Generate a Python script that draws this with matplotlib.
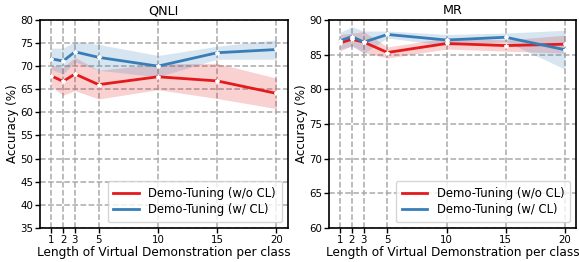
import matplotlib
matplotlib.use("Agg")
import matplotlib.pyplot as plt
import numpy as np

x_vals = [1, 2, 3, 5, 10, 15, 20]

qnli_wo_mean = [67.9, 66.7, 68.3, 66.0, 67.7, 66.8, 64.1]
qnli_wo_err = [2.3, 3.0, 3.6, 3.1, 2.8, 3.8, 3.3]
qnli_w_mean = [71.6, 71.1, 73.1, 71.9, 70.0, 72.9, 73.6]
qnli_w_err = [2.3, 2.8, 2.2, 2.8, 2.3, 1.4, 2.1]

mr_wo_mean = [86.7, 87.2, 86.8, 85.3, 86.6, 86.3, 86.5]
mr_wo_err = [1.2, 0.9, 1.5, 0.8, 0.8, 0.8, 1.3]
mr_w_mean = [87.0, 87.6, 86.8, 87.9, 87.1, 87.5, 85.7]
mr_w_err = [1.2, 1.4, 1.6, 0.5, 0.8, 0.6, 2.8]

labels = ["Demo-Tuning (w/o CL)", "Demo-Tuning (w/ CL)"]
red = "#e41a1c"
blue = "#377eb8"

fig = plt.figure(figsize=(5.79, 2.62), dpi=100)
ax1 = fig.add_axes([0.069, 0.130, 0.428, 0.794])
ax2 = fig.add_axes([0.568, 0.130, 0.427, 0.794])

def draw(ax, title, wo_m, wo_e, w_m, w_e, ylim, yticks):
    x = np.array(x_vals)
    for m, e, c, lab in [(wo_m, wo_e, red, labels[0]), (w_m, w_e, blue, labels[1])]:
        m = np.array(m); e = np.array(e)
        ax.fill_between(x, m - e, m + e, color=c, alpha=0.2, linewidth=0)
        ax.plot(x, m, color=c, linewidth=2, label=lab, zorder=3)
        ax.plot(x, m, linestyle='none', marker='*', markersize=3, color='white', zorder=4)
    ax.set_title(title, fontsize=9.2, pad=4)
    ax.set_ylim(*ylim)
    ax.set_yticks(yticks)
    ax.set_xticks(x_vals)
    ax.set_xlabel("Length of Virtual Demonstration per class", fontsize=8.7, labelpad=1)
    ax.set_ylabel("Accuracy (%)", fontsize=8.6, labelpad=1)
    ax.tick_params(labelsize=7.4, length=3.5, pad=1.5, width=1)
    ax.grid(True, linestyle='--', color='#aaaaaa', linewidth=1.1)
    ax.set_axisbelow(True)
    for s in ax.spines.values():
        s.set_linewidth(1.2)
    ax.legend(loc='lower right', fontsize=8.4, handlelength=2.2, borderpad=0.5, labelspacing=0.3)

draw(ax1, "QNLI", qnli_wo_mean, qnli_wo_err, qnli_w_mean, qnli_w_err, (35, 80), list(range(35, 81, 5)))
draw(ax2, "MR", mr_wo_mean, mr_wo_err, mr_w_mean, mr_w_err, (60, 90), list(range(60, 91, 5)))

fig.savefig("out.png", dpi=100)
